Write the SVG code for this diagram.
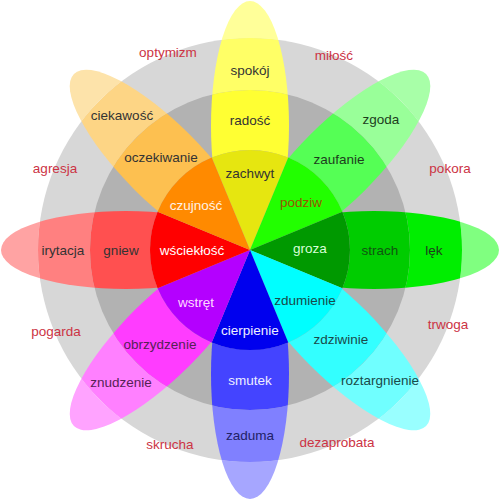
<svg xmlns="http://www.w3.org/2000/svg" xmlns:xlink="http://www.w3.org/1999/xlink" width="500" height="500" viewBox="0 0 500 500">
<style>
text{font-family:"Liberation Sans",Arial,sans-serif;font-size:13.5px;text-anchor:middle}
.d{fill:#333}
.w{fill:#ffffff}
.r{fill:#cc3344}
</style>
<defs>
<ellipse id="pet" cx="250" cy="126" rx="39" ry="125"/>
<path id="wedge" d="M250,250 L211.73,157.61 A100,100 0 0,1 288.27,157.61 Z"/>
<clipPath id="cOut" clipPathUnits="userSpaceOnUse"><path clip-rule="evenodd" d="M-100,-100H600V600H-100Z M38,250 A212,212 0 1,0 462,250 A212,212 0 1,0 38,250Z"/></clipPath>
<clipPath id="cRing" clipPathUnits="userSpaceOnUse"><path clip-rule="evenodd" d="M38,250 A212,212 0 1,0 462,250 A212,212 0 1,0 38,250Z M90,250 A160,160 0 1,0 410,250 A160,160 0 1,0 90,250Z"/></clipPath>
<clipPath id="cMid" clipPathUnits="userSpaceOnUse"><path clip-rule="evenodd" d="M90,250 A160,160 0 1,0 410,250 A160,160 0 1,0 90,250Z M150,250 A100,100 0 1,0 350,250 A100,100 0 1,0 150,250Z"/></clipPath>
</defs>
<rect width="500" height="500" fill="#ffffff"/>
<g id="background">
<circle cx="250" cy="250" r="212" fill="#d7d7d7"/>
<circle cx="250" cy="250" r="160" fill="#b2b2b2"/>
</g>
<g id="joy">
<g transform="rotate(0 250 250)">
<use href="#pet" clip-path="url(#cOut)" fill="#ffff99"/>
<use href="#pet" clip-path="url(#cRing)" fill="#ffff66"/>
<use href="#pet" clip-path="url(#cMid)" fill="#ffff33"/>
<use href="#wedge" fill="#e6e610"/>
</g>
<text class="d" x="250" y="75">spokój</text>
<text class="d" x="250" y="125">radość</text>
<text class="d" x="250" y="178">zachwyt</text>
</g>
<g id="trust">
<g transform="rotate(45 250 250)">
<use href="#pet" clip-path="url(#cOut)" fill="#a8ffa8"/>
<use href="#pet" clip-path="url(#cRing)" fill="#99ff99"/>
<use href="#pet" clip-path="url(#cMid)" fill="#55ff55"/>
<use href="#wedge" fill="#22ff00"/>
</g>
<text fill="#1d3d1d" x="381" y="124">zgoda</text>
<text fill="#1d3d1d" x="339" y="164">zaufanie</text>
<text fill="#995500" x="301" y="207">podziw</text>
</g>
<g id="fear">
<g transform="rotate(90 250 250)">
<use href="#pet" clip-path="url(#cOut)" fill="#80ff80"/>
<use href="#pet" clip-path="url(#cRing)" fill="#00ee00"/>
<use href="#pet" clip-path="url(#cMid)" fill="#00cc00"/>
<use href="#wedge" fill="#009900"/>
</g>
<text fill="#1d3d1d" x="434" y="255">lęk</text>
<text fill="#105510" x="380" y="255">strach</text>
<text fill="#d8ffd8" x="310" y="253">groza</text>
</g>
<g id="surprise">
<g transform="rotate(135 250 250)">
<use href="#pet" clip-path="url(#cOut)" fill="#99ffff"/>
<use href="#pet" clip-path="url(#cRing)" fill="#70ffff"/>
<use href="#pet" clip-path="url(#cMid)" fill="#33ffff"/>
<use href="#wedge" fill="#00ffff"/>
</g>
<text fill="#1a4a4a" x="380" y="385">roztargnienie</text>
<text fill="#1a4a4a" x="341" y="344">zdziwinie</text>
<text fill="#1a4a4a" x="305" y="305">zdumienie</text>
</g>
<g id="sadness">
<g transform="rotate(180 250 250)">
<use href="#pet" clip-path="url(#cOut)" fill="#a6a6ff"/>
<use href="#pet" clip-path="url(#cRing)" fill="#8080ff"/>
<use href="#pet" clip-path="url(#cMid)" fill="#4444ff"/>
<use href="#wedge" fill="#0000ee"/>
</g>
<text fill="#222266" x="250" y="440">zaduma</text>
<text fill="#eeeeff" x="250" y="385">smutek</text>
<text fill="#eeeeff" x="250" y="335">cierpienie</text>
</g>
<g id="disgust">
<g transform="rotate(225 250 250)">
<use href="#pet" clip-path="url(#cOut)" fill="#ffa3ff"/>
<use href="#pet" clip-path="url(#cRing)" fill="#ff80ff"/>
<use href="#pet" clip-path="url(#cMid)" fill="#ff3cff"/>
<use href="#wedge" fill="#b400ff"/>
</g>
<text fill="#552255" x="121" y="387">znudzenie</text>
<text fill="#552255" x="160" y="349">obrzydzenie</text>
<text fill="#ffd8ff" x="196" y="307">wstręt</text>
</g>
<g id="anger">
<g transform="rotate(270 250 250)">
<use href="#pet" clip-path="url(#cOut)" fill="#ffa3a3"/>
<use href="#pet" clip-path="url(#cRing)" fill="#ff8080"/>
<use href="#pet" clip-path="url(#cMid)" fill="#ff5050"/>
<use href="#wedge" fill="#ff0000"/>
</g>
<text class="d" x="63" y="255">irytacja</text>
<text class="d" x="121" y="255">gniew</text>
<text class="w" x="192" y="255">wściekłość</text>
</g>
<g id="anticipation">
<g transform="rotate(315 250 250)">
<use href="#pet" clip-path="url(#cOut)" fill="#fde3aa"/>
<use href="#pet" clip-path="url(#cRing)" fill="#fdd585"/>
<use href="#pet" clip-path="url(#cMid)" fill="#fdc050"/>
<use href="#wedge" fill="#ff8a00"/>
</g>
<text class="d" x="122" y="120">ciekawość</text>
<text class="d" x="161" y="162">oczekiwanie</text>
<text fill="#fff2e6" x="196" y="210">czujność</text>
</g>
<g id="dyads">
<text class="r" x="168" y="57">optymizm</text>
<text class="r" x="334" y="60">miłość</text>
<text class="r" x="450" y="173">pokora</text>
<text class="r" x="448" y="329">trwoga</text>
<text class="r" x="337" y="447">dezaprobata</text>
<text class="r" x="170" y="449">skrucha</text>
<text class="r" x="56" y="336">pogarda</text>
<text class="r" x="55" y="173">agresja</text>
</g>
</svg>
